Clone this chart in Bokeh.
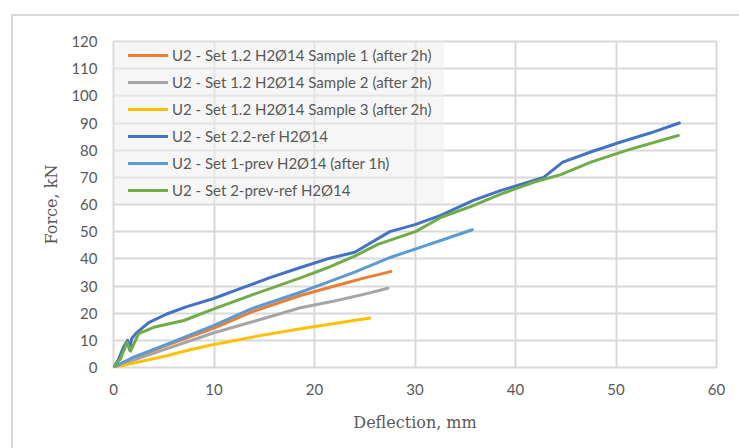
from bokeh.plotting import figure
from bokeh.models import Legend, LegendItem, BoxAnnotation
from bokeh.embed import file_html
from bokeh.resources import INLINE

# ---- data ----
s1_x = [0, 2.0, 5.0, 10.0, 14.0, 18.6, 22.0, 25.0, 27.6]
s1_y = [0, 3.5, 7.8, 14.5, 20.8, 26.5, 30.0, 33.0, 35.3]

s2_x = [0, 3.0, 6.0, 10.0, 14.0, 18.6, 22.0, 25.0, 27.3]
s2_y = [0, 4.0, 7.8, 12.8, 17.0, 22.0, 24.5, 27.0, 29.2]

s3_x = [0, 2.0, 5.4, 7.0, 10.0, 15.0, 18.6, 22.0, 25.5]
s3_y = [0, 1.6, 4.4, 6.0, 8.5, 12.0, 14.3, 16.2, 18.2]

ref22_x = [0, 0.5, 1.0, 1.4, 1.6, 1.8, 2.2, 3.5, 5.3, 7.3, 9.9, 12.6, 15.5, 18.6,
           21.3, 24.0, 27.5, 30.0, 32.5, 35.8, 38.5, 40.2, 42.8, 44.7, 47.7,
           50.4, 53.4, 56.3]
ref22_y = [0, 3.0, 7.5, 10.0, 6.5, 10.5, 12.5, 16.5, 19.7, 22.4, 25.3, 29.0, 33.0, 36.8,
           40.0, 42.4, 50.0, 52.6, 55.9, 61.5, 65.1, 67.0, 70.0, 75.6, 79.6,
           82.9, 86.3, 90.0]

prev1_x = [0, 2.0, 5.4, 10.0, 13.7, 18.6, 21.0, 24.0, 27.6, 30.6, 33.0, 35.7]
prev1_y = [0, 3.8, 8.7, 15.5, 21.6, 27.7, 31.0, 35.1, 40.6, 44.3, 47.3, 50.7]

prev2_x = [0, 0.7, 1.35, 1.7, 2.5, 4.0, 7.0, 10.0, 14.0, 18.6, 21.5, 24.0, 26.3,
           30.1, 32.6, 35.6, 38.6, 41.8, 44.5, 47.5, 51.2, 56.2]
prev2_y = [0, 3.2, 9.3, 6.0, 12.5, 14.8, 17.3, 21.6, 27.0, 33.0, 37.0, 41.0, 45.3,
           50.1, 55.3, 59.3, 63.9, 68.2, 71.0, 75.6, 80.1, 85.4]

labels = [
    "U2 - Set 1.2 H2\u00d814 Sample 1 (after 2h)",
    "U2 - Set 1.2 H2\u00d814 Sample 2 (after 2h)",
    "U2 - Set 1.2 H2\u00d814 Sample 3 (after 2h)",
    "U2 - Set 2.2-ref H2\u00d814",
    "U2 - Set 1-prev H2\u00d814 (after 1h)",
    "U2 - Set 2-prev-ref H2\u00d814",
]
colors = ["#ED7D31", "#A5A5A5", "#FFC000", "#4472C4", "#5B9BD5", "#70AD47"]
series = [(s1_x, s1_y), (s2_x, s2_y), (s3_x, s3_y), (ref22_x, ref22_y),
          (prev1_x, prev1_y), (prev2_x, prev2_y)]

x_ticks = [0, 10, 20, 30, 40, 50, 60]
y_ticks = list(range(0, 121, 10))

TICK_COLOR = "#595959"
GRID = "#d9d9d9"

p = figure(frame_width=603, frame_height=326, x_range=(0, 60), y_range=(0, 120),
           min_border_left=100, min_border_right=23, min_border_top=25,
           min_border_bottom=81, output_backend="svg", toolbar_location=None)
p.styles = {"margin-left": "11px", "margin-top": "14px",
            "border-left": "2px solid #d9d9d9", "border-top": "2px solid #d9d9d9"}

p.xaxis.ticker = x_ticks
p.yaxis.ticker = y_ticks
for ax in (p.xaxis[0], p.yaxis[0]):
    ax.axis_line_color = None
    ax.major_tick_line_color = None
    ax.minor_tick_line_color = None
    ax.major_tick_out = 0
    ax.major_tick_in = 0
    ax.minor_tick_out = 0
    ax.minor_tick_in = 0
    ax.major_label_text_font = "Lato"
    ax.major_label_text_font_size = "15px"
    ax.major_label_text_color = TICK_COLOR
    ax.axis_label_text_font = "DejaVu Serif"
    ax.axis_label_text_font_style = "normal"
    ax.axis_label_text_font_size = "16px"
    ax.axis_label_text_color = TICK_COLOR
p.xaxis.axis_label = "Deflection, mm"
p.yaxis.axis_label = "Force, kN"
p.xaxis.major_label_standoff = 16
p.xaxis.axis_label_standoff = 15
p.yaxis.major_label_standoff = 16
p.yaxis.axis_label_standoff = 7

p.xgrid.grid_line_color = GRID
p.ygrid.grid_line_color = GRID
p.xgrid.grid_line_width = 2
p.ygrid.grid_line_width = 2
p.outline_line_color = GRID
p.outline_line_width = 2
p.background_fill_color = "white"
p.border_fill_color = "white"

# legend background panel
p.add_layout(BoxAnnotation(left=0, right=32.9, bottom=60.4, top=120,
                           fill_color="#eeeeee", fill_alpha=0.55,
                           line_color=None))

items = []
for (xs, ys), c, lab in zip(series, colors, labels):
    r = p.line(xs, ys, line_color=c, line_width=3, line_join="round", line_cap="round")
    items.append(LegendItem(label=lab, renderers=[r]))

leg = Legend(items=items, location=(15, 167), padding=0, margin=0, spacing=7,
             glyph_width=40, glyph_height=20, label_height=20, label_standoff=4,
             label_text_font="Lato", label_text_font_size="15px",
             label_text_color=TICK_COLOR, background_fill_alpha=0,
             border_line_color=None)
p.add_layout(leg, "center")

open("out.html", "w").write(file_html(p, INLINE))
